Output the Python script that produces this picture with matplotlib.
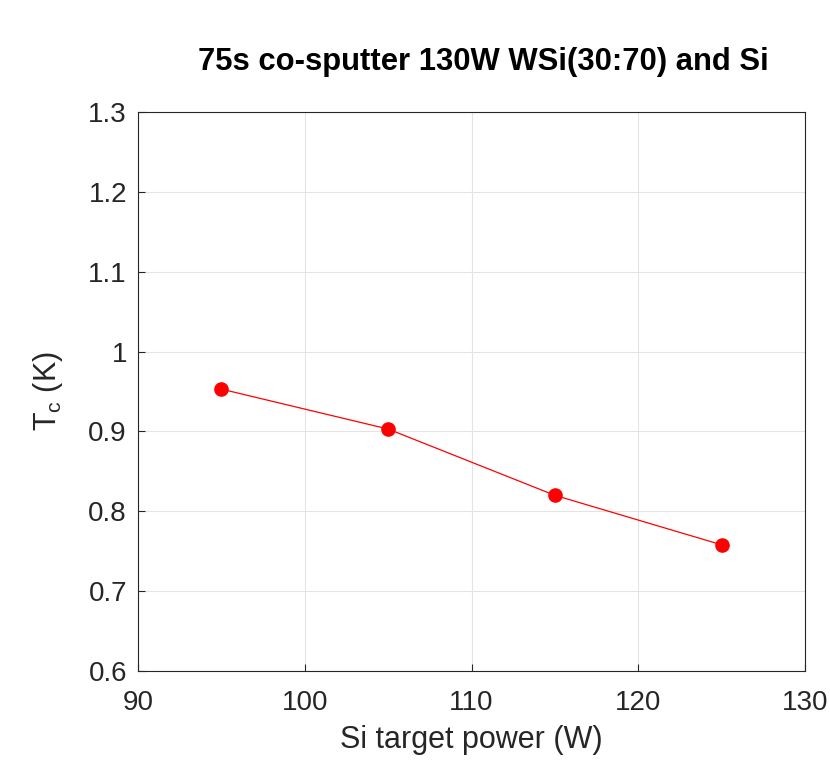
import matplotlib
matplotlib.use("Agg")
import matplotlib.pyplot as plt

si_power = [95, 105, 115, 125]
tc = [0.953, 0.903, 0.820, 0.758]
xticks = [90, 100, 110, 120, 130]
yticks = [0.6, 0.7, 0.8, 0.9, 1.0, 1.1, 1.2, 1.3]
ytick_labels = ["0.6", "0.7", "0.8", "0.9", "1", "1.1", "1.2", "1.3"]

plt.rcParams['font.family'] = ['Liberation Sans', 'DejaVu Sans']
fig = plt.figure(figsize=(8.3, 7.6), dpi=100)
ax = fig.add_axes([0.1663, 0.1171, 0.8036, 0.7355])
ax.plot(si_power, tc, color='red', lw=0.9, marker='o', ms=9.5, mfc='red', mec='red')
ax.set_xlim(90, 130)
ax.set_ylim(0.6, 1.3)
ax.set_xticks(xticks)
ax.set_yticks(yticks)
ax.set_yticklabels(ytick_labels)
ax.grid(True, color='#e3e3e3', lw=0.8)
ax.set_axisbelow(True)
ax.tick_params(direction='in', length=5, width=0.8, colors='#262626', labelsize=20)
ax.tick_params(axis='x', pad=14)
ax.tick_params(axis='y', pad=8)
for s in ax.spines.values():
    s.set_color('#262626')
    s.set_linewidth(0.8)
ax.set_xlabel('Si target power (W)', fontsize=22, color='#262626', labelpad=6)
ax.set_ylabel(r'T$_\mathregular{c}$ (K)', fontsize=22, color='#262626', labelpad=17)
ax.set_title('75s co-sputter 130W WSi(30:70) and Si', fontsize=22.3, fontweight='bold',
             pad=30, x=0.518)
fig.savefig('out.png', dpi=100)
